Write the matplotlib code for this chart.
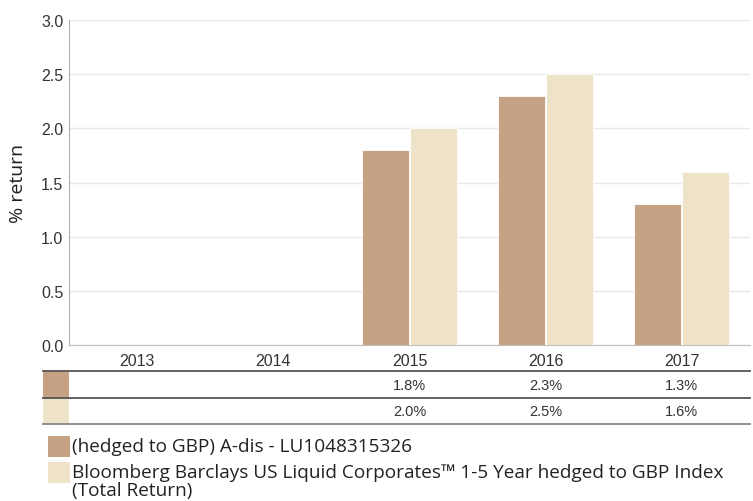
import numpy as np
import matplotlib
matplotlib.use("Agg")
import matplotlib.pyplot as plt
from matplotlib.patches import Rectangle

years = ["2013", "2014", "2015", "2016", "2017"]
fund = [np.nan, np.nan, 1.8, 2.3, 1.3]
index = [np.nan, np.nan, 2.0, 2.5, 1.6]
fund_label = "(hedged to GBP) A-dis - LU1048315326"
index_label = "Bloomberg Barclays US Liquid Corporates\u2122 1-5 Year hedged to GBP Index\n(Total Return)"

fund_color = "#c4a283"
index_color = "#eee2c8"
W, H = 753, 502

plt.rcParams["font.family"] = ["Liberation Sans", "DejaVu Sans"]

fig = plt.figure(figsize=(W / 100, H / 100), dpi=100)

# main bar axes
ax = fig.add_axes([69 / W, 1 - 346 / H, 681 / W, 325 / H])
x = np.arange(len(years))
bw = 0.345
ax.bar(x - bw / 2 - 0.004, fund, bw, color=fund_color, edgecolor="white", linewidth=0.6, zorder=3)
ax.bar(x + bw / 2 + 0.004, index, bw, color=index_color, edgecolor="white", linewidth=0.6, zorder=3)
ax.set_xlim(-0.5, len(years) - 0.5)
ax.set_ylim(0, 3.0)
ax.set_yticks(np.arange(0, 3.01, 0.5))
ax.set_yticklabels([f"{v:.1f}" for v in np.arange(0, 3.01, 0.5)])
ax.set_xticks(x)
ax.set_xticklabels(years)
ax.grid(axis="y", color="#e8e8e8", linewidth=1, zorder=0)
for s in ("top", "right"):
    ax.spines[s].set_visible(False)
ax.spines["left"].set_color("#b0b0b0")
ax.spines["bottom"].set_color("#c0c0c0")
ax.tick_params(axis="both", length=0, labelsize=11.5, colors="#333333", pad=4)
ax.tick_params(axis="x", pad=6)
ax.set_ylabel("% return", fontsize=14, color="#222222", family=["Open Sans", "DejaVu Sans"], labelpad=10)

# data table under the chart
left0 = 42.7
tab = fig.add_axes([left0 / W, 1 - 425 / H, (750 - left0) / W, 53 / H])
ext = (69 - left0) / (681 / len(years))
tab.set_xlim(-0.5 - ext, len(years) - 0.5)
tab.set_ylim(0, 2)
tab.axis("off")
for row, (vals, col) in enumerate([(fund, fund_color), (index, index_color)]):
    y0 = 1 - row
    tab.add_patch(Rectangle((-0.5 - ext, y0), ext, 1, color=col, lw=0))
    for xi, v in zip(x, vals):
        if not np.isnan(v):
            tab.text(xi, y0 + 0.48, f"{v:.1f}%", ha="center", va="center", fontsize=10.5, color="#333333")
for yl, c, lw in [(2, "#555555", 1.3), (1, "#555555", 1.3), (0, "#888888", 1.3)]:
    tab.axhline(yl, color=c, linewidth=lw, clip_on=False)

# legend
for i, (lab, col) in enumerate([(fund_label, fund_color), (index_label, index_color)]):
    top = 437 + i * 26
    fig.patches.append(Rectangle((48 / W, 1 - (top + 21) / H), 22 / W, 21 / H,
                                 transform=fig.transFigure, color=col, lw=0))
    fig.text(72 / W, 1 - (top + 1) / H, lab, ha="left", va="top", fontsize=13.7, color="#222222",
             family=["Open Sans", "DejaVu Sans"], linespacing=1.0)

fig.savefig("out.png", dpi=100)
